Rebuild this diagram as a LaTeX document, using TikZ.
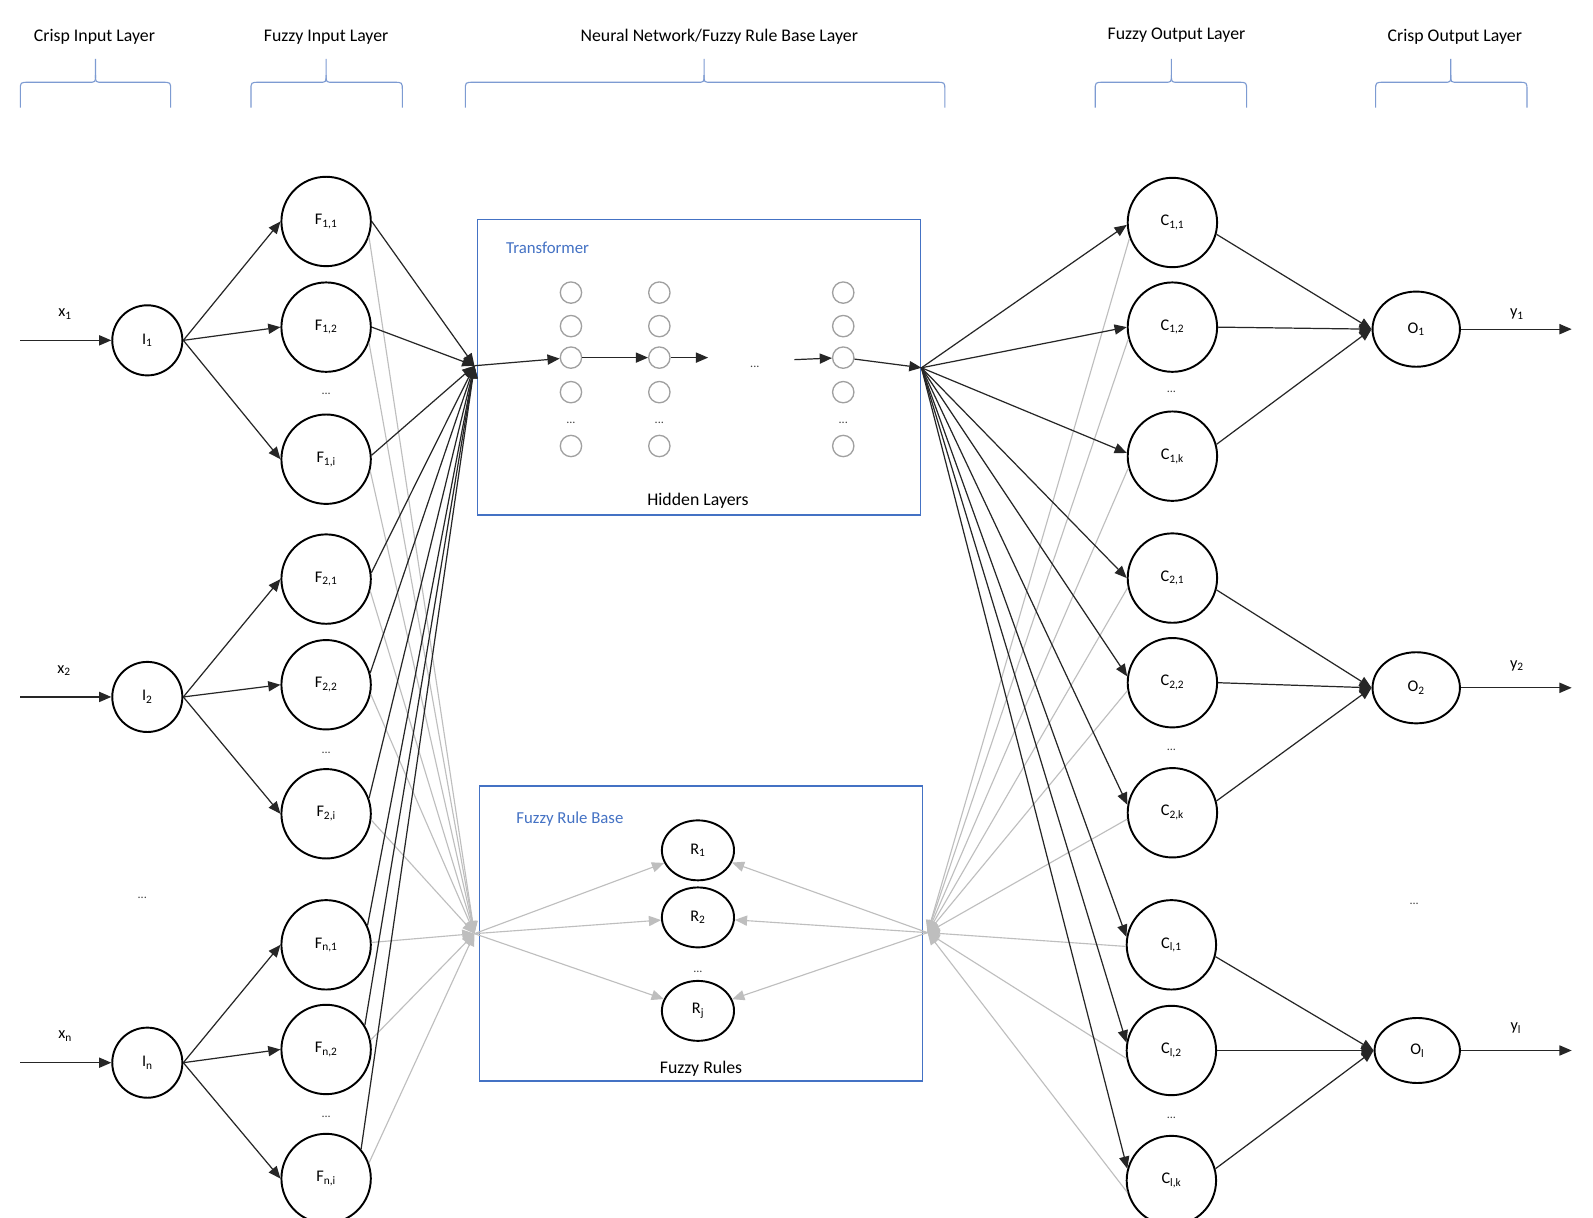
\documentclass[tikz,border=0pt]{standalone}
\usepackage{fontspec}
\setmainfont{Carlito}
\usetikzlibrary{arrows.meta,shapes.geometric}
\definecolor{boxblue}{RGB}{68,114,196}
\definecolor{brblue}{RGB}{125,155,210}
\definecolor{lgray}{RGB}{190,190,190}
\definecolor{hgray}{RGB}{160,160,160}
\newcommand\layerbr[3]{%
  \draw[brc] (#1,106) -- (#1,89) .. controls (#1,81) .. (#1+8,81) -- (#2-7,81) .. controls (#2,81) .. (#2,74) -- (#2,58);
  \draw[brc] (#3,106) -- (#3,89) .. controls (#3,81) .. (#3-8,81) -- (#2+7,81) .. controls (#2,81) .. (#2,74);
}
\begin{document}
\begin{tikzpicture}[x=1pt,y=-1pt,
  hdr/.style={font=\fontsize{17.5}{20}\selectfont, inner sep=0pt},
  brc/.style={draw=brblue, line width=1.1pt},
  unit/.style={circle, draw=black, line width=1.9pt, minimum size=88pt, inner sep=0pt, font=\fontsize{16}{18}\selectfont},
  inp/.style={unit, minimum size=69pt},
  outp/.style={ellipse, draw=black, line width=1.9pt, minimum width=86pt, minimum height=74pt, inner sep=0pt, font=\fontsize{16}{18}\selectfont},
  rul/.style={ellipse, draw=black, line width=1.9pt, minimum width=71pt, minimum height=59pt, inner sep=0pt, font=\fontsize{16}{18}\selectfont},
  hid/.style={circle, draw=hgray, line width=1.3pt, minimum size=21pt, inner sep=0pt},
  blk/.style={draw=black!85, line width=1.2pt, -{Triangle[length=12pt,width=10pt]}},
  gry/.style={draw=lgray, line width=1.1pt, -{Triangle[length=12pt,width=10pt]}},
  dts/.style={font=\fontsize{12}{14}\selectfont, inner sep=0pt, text=black!75},
  lbl/.style={font=\fontsize{16}{18}\selectfont, inner sep=0pt},
  boxs/.style={draw=boxblue, line width=1.8pt, inner sep=0pt},
  btitle/.style={text=boxblue, font=\fontsize{16.5}{19}\selectfont, inner sep=0pt},
  blab/.style={font=\fontsize{17.5}{20}\selectfont, inner sep=0pt},
]
\fill[white] (0,0) rectangle (1568,1198);
\useasboundingbox (0,0) rectangle (1568,1198);

% headers
\node[hdr] (hd1) at (93,36) {Crisp Input Layer};
\node[hdr] (hd2) at (321,37) {Fuzzy Input Layer};
\node[hdr] (hd3) at (708,36) {Neural Network/Fuzzy Rule Base Layer};
\node[hdr] (hd4) at (1158,35) {Fuzzy Output Layer};
\node[hdr] (hd5) at (1432,36) {Crisp Output Layer};
\layerbr{20}{94}{168}
\layerbr{247}{321}{396}
\layerbr{458}{693}{930}
\layerbr{1078}{1153}{1227}
\layerbr{1354}{1428}{1503}

% boxes
\node[boxs, minimum width=436pt, minimum height=291pt] (tbox) at (688,361.5) {};
\node[boxs, minimum width=436pt, minimum height=290pt] (rbox) at (690,919) {};
\node[btitle] (ttl1) at (539,244) {Transformer};
\node[blab] (ttl2) at (687,493) {Hidden Layers};
\node[btitle] (ttl3) at (561,806) {Fuzzy Rule Base};
\node[blab] (ttl4) at (690,1052) {Fuzzy Rules};

% crisp inputs
\coordinate (xs1) at (20,335);
\coordinate (xs2) at (20,686);
\coordinate (xsn) at (20,1046);
\node[lbl] (xl1) at (64,309) {x\textsubscript{1}};
\node[lbl] (xl2) at (63,660) {x\textsubscript{2}};
\node[lbl] (xln) at (64,1020) {x\textsubscript{n}};
\node[inp] (I1) at (145,335) {I\textsubscript{1}};
\node[inp] (I2) at (145,686) {I\textsubscript{2}};
\node[inp] (In) at (145,1046) {I\textsubscript{n}};
\node[dts] (dI) at (140,884) {...};

% fuzzy inputs
\node[unit] (F11) at (321,218) {F\textsubscript{1,1}};
\node[unit] (F12) at (321,322) {F\textsubscript{1,2}};
\node[unit] (F1i) at (321,452) {F\textsubscript{1,i}};
\node[unit] (F21) at (321,570) {F\textsubscript{2,1}};
\node[unit] (F22) at (321,674) {F\textsubscript{2,2}};
\node[unit] (F2i) at (321,801) {F\textsubscript{2,i}};
\node[unit] (Fn1) at (321,930) {F\textsubscript{n,1}};
\node[unit] (Fn2) at (321,1033) {F\textsubscript{n,2}};
\node[unit] (Fni) at (321,1160) {F\textsubscript{n,i}};
\node[dts] (dF1) at (321,388) {...};
\node[dts] (dF2) at (321,741) {...};
\node[dts] (dF3) at (321,1099) {...};

% hidden layers
\foreach \c/\x in {1/562,2/649,3/830}{
  \node[hid] (h\c1) at (\x,288) {};
  \node[hid] (h\c2) at (\x,321) {};
  \node[hid] (h\c3) at (\x,352) {};
  \node[hid] (h\c4) at (\x,386) {};
  \node[dts] (hd\c) at (\x,416) {...};
  \node[hid] (h\c5) at (\x,439) {};
}
\coordinate (P) at (467,360);
\coordinate (Tout) at (907,362);
\coordinate (ta) at (697,352);
\coordinate (tb) at (782,354);
\node[dts] (hdm) at (743,361) {...};

% rules
\node[rul] (R1) at (687,837) {R\textsubscript{1}};
\node[rul] (R2) at (687,903) {R\textsubscript{2}};
\node[rul] (Rj) at (687,995) {R\textsubscript{j}};
\node[dts] (dR) at (687,957) {...};
\coordinate (Q) at (467,919);
\coordinate (S) at (913,918);

% fuzzy outputs
\node[unit] (C11) at (1154,219) {C\textsubscript{1,1}};
\node[unit] (C12) at (1154,322) {C\textsubscript{1,2}};
\node[unit] (C1k) at (1154,449) {C\textsubscript{1,k}};
\node[unit] (C21) at (1154,569) {C\textsubscript{2,1}};
\node[unit] (C22) at (1154,672) {C\textsubscript{2,2}};
\node[unit] (C2k) at (1154,800) {C\textsubscript{2,k}};
\node[unit] (Cl1) at (1153,930) {C\textsubscript{l,1}};
\node[unit] (Cl2) at (1153,1034) {C\textsubscript{l,2}};
\node[unit] (Clk) at (1153,1162) {C\textsubscript{l,k}};
\node[dts] (dC1) at (1153,386) {...};
\node[dts] (dC2) at (1153,738) {...};
\node[dts] (dC3) at (1153,1100) {...};

% crisp outputs
\node[outp] (O1) at (1394,324) {O\textsubscript{1}};
\node[outp, minimum height=70pt] (O2) at (1394,677) {O\textsubscript{2}};
\node[outp, minimum width=84pt, minimum height=64pt] (Ol) at (1395,1034) {O\textsubscript{l}};
\node[dts] (dO) at (1392,890) {...};
\coordinate (ye1) at (1547,324);
\coordinate (ye2) at (1547,677);
\coordinate (yel) at (1547,1034);
\node[lbl] (yl1) at (1493,309) {y\textsubscript{1}};
\node[lbl] (yl2) at (1493,655) {y\textsubscript{2}};
\node[lbl] (yll) at (1492,1012) {y\textsubscript{l}};

% gray connectors
\foreach \f/\a in {F11/-20,F12/-20,F1i/-15,F21/-15,F22/-12,F2i/-8,Fn1/3,Fn2/12,Fni/20}
  \draw[gry] (\f.\a) -- (Q);
\foreach \r in {R1,R2,Rj}{
  \draw[gry] (Q) -- (\r);
  \draw[gry] (S) -- (\r);
}
\foreach \c/\a in {C11/200,C12/195,C1k/195,C21/192,C22/190,C2k/188,Cl1/182,Cl2/190,Clk/195}
  \draw[gry] (\c.\a) -- (S);

% black connectors
\draw[blk] (xs1) -- (I1);
\draw[blk] (xs2) -- (I2);
\draw[blk] (xsn) -- (In);
\foreach \f in {F11,F12,F1i} \draw[blk] (I1.east) -- (\f.west);
\foreach \f in {F21,F22,F2i} \draw[blk] (I2.east) -- (\f.west);
\foreach \f in {Fn1,Fn2,Fni} \draw[blk] (In.east) -- (\f.west);
\foreach \f/\a in {F11/0,F12/0,F1i/5,F21/8,F22/15,F2i/20,Fn1/25,Fn2/32,Fni/40}
  \draw[blk] (\f.\a) -- (P);
\draw[blk] (P) -- (h13);
\draw[blk] (h13) -- (h23);
\draw[blk] (h23) -- (ta);
\draw[blk] (tb) -- (h33);
\draw[blk] (h33) -- (Tout);
\foreach \c/\a in {C11/183,C12/180,C1k/176,C21/180,C22/172,C2k/170,Cl1/170,Cl2/170,Clk/165}
  \draw[blk] (Tout) -- (\c.\a);
\foreach \c/\a in {C11/-15,C12/0,C1k/15} \draw[blk] (\c.\a) -- (O1.west);
\foreach \c/\a in {C21/-15,C22/0,C2k/15} \draw[blk] (\c.\a) -- (O2.west);
\foreach \c/\a in {Cl1/-15,Cl2/0,Clk/15} \draw[blk] (\c.\a) -- (Ol.west);
\draw[blk] (O1.east) -- (ye1);
\draw[blk] (O2.east) -- (ye2);
\draw[blk] (Ol.east) -- (yel);
\end{tikzpicture}
\end{document}
